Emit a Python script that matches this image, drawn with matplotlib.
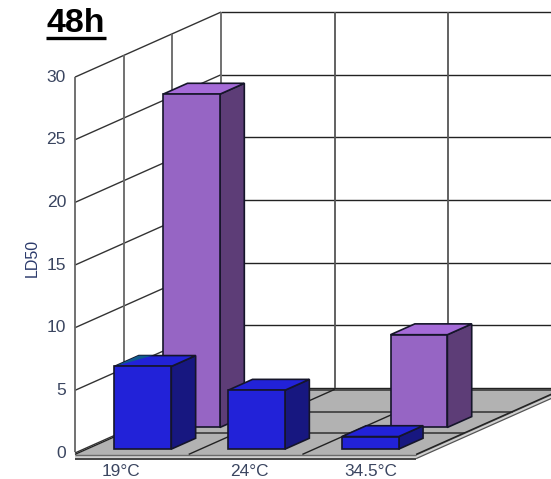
import matplotlib
matplotlib.use("Agg")
import matplotlib.pyplot as plt
from matplotlib.patches import Polygon

plt.rcParams["font.family"] = ["Liberation Sans", "DejaVu Sans"]

# LD50 after 48 h; None means the series has no bar at that temperature
categories = ["19°C", "24°C", "34.5°C"]
front_values = [6.6, 4.7, 1.0]
back_values = [26.6, None, 7.4]
y_ticks = [0, 5, 10, 15, 20, 25, 30]

W, H = 551, 479
PX_X, PX_Y = 113.7, 12.53      # pixels per category / per LD50 unit
ORG_X, ORG_Y = 75, 453         # pixel position of category 0, value 0
DX, DY = 48.67 / PX_X, 21.67 / PX_Y   # shift for one depth row
ROWS = 3

fig = plt.figure(figsize=(W / 100, H / 100), dpi=100)
ax = fig.add_axes([0, 0, 1, 1])
ax.set_xlim(-ORG_X / PX_X, (W - ORG_X) / PX_X)
ax.set_ylim((ORG_Y - H) / PX_Y, ORG_Y / PX_Y)
ax.axis("off")


def pt(cat, depth, val):
    """Oblique projection of (category, depth row, value) to axes data."""
    return (cat + depth * DX, val + depth * DY)


def poly(verts, fc, ec="none", lw=0.0, z=1):
    ax.add_patch(Polygon(verts, closed=True, fc=fc, ec=ec, lw=lw, zorder=z, joinstyle="miter"))


def line(a, b, color, lw=1.0, z=2):
    ax.plot([a[0], b[0]], [a[1], b[1]], color=color, lw=lw, zorder=z, solid_capstyle="butt", clip_on=True)


n_cat = len(categories)
top = y_ticks[-1]

# Floor slab
FLOOR = -0.16
SLAB = -0.45
poly([pt(0, 0, SLAB), pt(n_cat, 0, SLAB), pt(n_cat, ROWS, SLAB), pt(n_cat, ROWS, FLOOR), pt(0, ROWS, FLOOR), pt(0, 0, FLOOR)],
     "#d0d0d0", z=1)
poly([pt(0, 0, FLOOR), pt(n_cat, 0, FLOOR), pt(n_cat, ROWS, FLOOR), pt(0, ROWS, FLOOR)], "#b2b2b2", z=1.1)
line(pt(0, 0, SLAB), pt(n_cat, 0, SLAB), "#444444", 1.4)
line(pt(0, 0, FLOOR), pt(n_cat, 0, FLOOR), "#6a6a6a", 1.0)
line(pt(n_cat, 0, SLAB), pt(n_cat, ROWS, SLAB), "#555555", 0.9)
line(pt(n_cat, 0, FLOOR), pt(n_cat, ROWS, FLOOR), "#555555", 0.9)
for d in range(1, ROWS + 1):
    line(pt(0, d, FLOOR), pt(n_cat, d, FLOOR), "#444444", 1.3)
for c in range(n_cat + 1):
    line(pt(c, 0, FLOOR + 0.05), pt(c, ROWS, FLOOR + 0.05), "#222222", 1.0)

# Walls
for v in y_ticks:
    line(pt(0, 0, v), pt(0, ROWS, v), "#333333", 1.0)
    line(pt(0, ROWS, v), pt(n_cat + 1, ROWS, v), "#222222", 1.0)
for d in range(ROWS + 1):
    line(pt(0, d, 0.1), pt(0, d, top), "#666666", 1.3)
for c in range(1, n_cat):
    line(pt(c, ROWS, 0), pt(c, ROWS, top), "#555555", 1.3)


def bar3d(cat, depth, val, face, side, cap, z, tint=None):
    x0, x1 = cat + 0.27, cat + 0.77
    d0, d1 = depth, depth + 0.5
    edge = "#15152a"
    poly([pt(x1, d0, 0), pt(x1, d1, 0), pt(x1, d1, val), pt(x1, d0, val)], side, edge, 1.2, z)
    poly([pt(x0, d0, val), pt(x1, d0, val), pt(x1, d1, val), pt(x0, d1, val)], cap, edge, 1.2, z)
    if tint:
        # darker corner at the back-left of the cap
        poly([pt(x0, d0, val), pt(x0 + 0.12, d1, val), pt(x0, d1, val)], tint, z=z + 0.05)
    poly([pt(x0, d0, 0), pt(x1, d0, 0), pt(x1, d0, val), pt(x0, d0, val)], face, edge, 1.2, z + 0.1)


for i, v in enumerate(back_values):
    if v is not None:
        bar3d(i, 1.18, v, "#9665C4", "#5D3D77", "#A56BD8", 3 + i * 0.2)
for i, v in enumerate(front_values):
    if v is not None:
        bar3d(i, 0.18, v, "#2222D8", "#171780", "#2222D8", 4 + i * 0.2, "#0F5A8C" if i == 0 else None)

# Axis text
TXT = "#3A4560"
for v in y_ticks:
    ax.text(-9 / PX_X, v, str(v), ha="right", va="center", fontsize=12.6, color=TXT)
label_px = [121, 249, 371]
for name, px in zip(categories, label_px):
    ax.text((px - ORG_X) / PX_X, (ORG_Y - 471) / PX_Y, name, ha="center", va="center", fontsize=12.4, color=TXT)
ax.text((32 - ORG_X) / PX_X, (ORG_Y - 258) / PX_Y, "LD50", rotation=90, ha="center", va="center",
        fontsize=11.5, color="#2B3A6B")

# Underlined heading
ax.text((46 - ORG_X) / PX_X, (ORG_Y - 32.5) / PX_Y, "48h", ha="left", va="baseline", fontsize=24.5,
        fontweight="bold", color="black")
ax.plot([(46 - ORG_X) / PX_X, (106 - ORG_X) / PX_X], [(ORG_Y - 37.5) / PX_Y] * 2, color="black", lw=2.4,
        solid_capstyle="butt", zorder=5)

fig.savefig("out.png", dpi=100)
